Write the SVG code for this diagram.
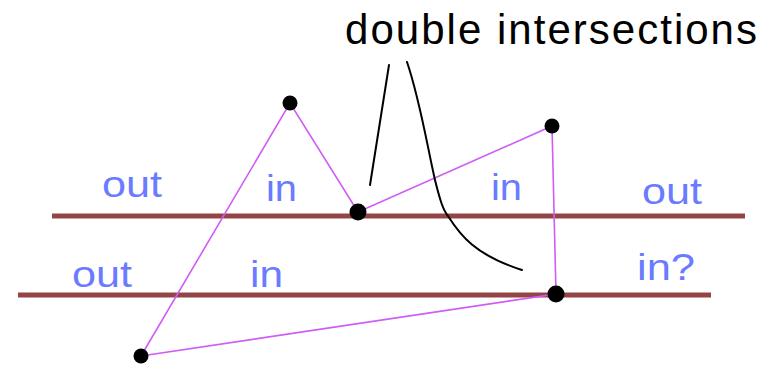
<svg xmlns="http://www.w3.org/2000/svg" width="768" height="370" viewBox="0 0 768 370">
<style>
.ln{stroke:#934444;stroke-width:5;fill:none}
.seg{stroke:#d05cf5;stroke-width:1.6;fill:none}
.cur{stroke:#000;stroke-width:2;fill:none;stroke-linecap:round}
.lbl{font-family:"Liberation Sans",Arial,sans-serif;font-size:36px;fill:#6b7bff}
.ttl{font-family:"Liberation Sans",Arial,sans-serif;font-size:42px;fill:#000}
.pt{fill:#000}
</style>
<rect width="768" height="370" fill="#fff"/>
<g id="lines">
<line class="ln" x1="52" y1="216" x2="745" y2="216"/>
<line class="ln" x1="18" y1="295" x2="711" y2="295"/>
</g>
<g id="connectors">
<polyline class="seg" points="141,356 290,103 358,212 552,126 556,294 141,356"/>
<path class="cur" d="M370,185 L389,65"/>
<path class="cur" d="M407,62 C420,100 428,150 435,180 C440,200 443,210 448,216 C460,235 475,255 522,270"/>
</g>
<g id="points">
<circle class="pt" cx="290" cy="103" r="7.5"/>
<circle class="pt" cx="358" cy="212" r="8.5"/>
<circle class="pt" cx="552" cy="126" r="7.5"/>
<circle class="pt" cx="556" cy="294" r="8.5"/>
<circle class="pt" cx="141" cy="356" r="7.5"/>
</g>
<g id="labels">
<text class="ttl" x="345" y="44" textLength="412" lengthAdjust="spacing">double intersections</text>
<text class="lbl" x="102" y="197" textLength="60" lengthAdjust="spacingAndGlyphs">out</text>
<text class="lbl" x="266" y="201" textLength="31" lengthAdjust="spacingAndGlyphs">in</text>
<text class="lbl" x="491" y="200" textLength="31" lengthAdjust="spacingAndGlyphs">in</text>
<text class="lbl" x="642" y="204" textLength="60" lengthAdjust="spacingAndGlyphs">out</text>
<text class="lbl" x="72" y="287" textLength="60" lengthAdjust="spacingAndGlyphs">out</text>
<text class="lbl" x="250" y="287" textLength="33" lengthAdjust="spacingAndGlyphs">in</text>
<text class="lbl" x="637" y="280" textLength="58" lengthAdjust="spacingAndGlyphs">in?</text>
</g>
</svg>
